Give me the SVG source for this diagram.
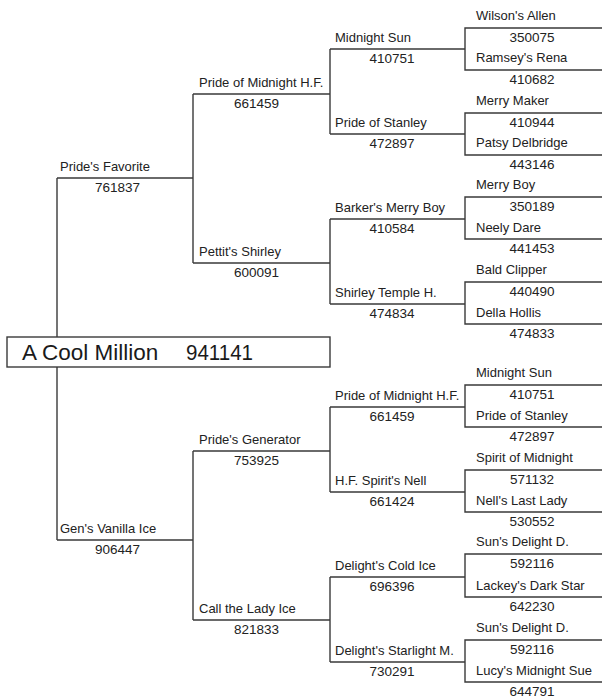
<svg xmlns="http://www.w3.org/2000/svg" width="602" height="698" viewBox="0 0 602 698">
<style>
  .ln{fill:none;stroke:#3a3a3a;stroke-width:1.4}
  .nm{font-family:"Liberation Sans",Arial,sans-serif;font-size:13px;fill:#222}
  .nu{font-family:"Liberation Sans",Arial,sans-serif;font-size:13.5px;fill:#222;text-anchor:middle}
  .mt{font-family:"Liberation Sans",Arial,sans-serif;font-size:22.5px;fill:#1a1a1a}
</style>
<rect width="602" height="698" fill="#fff"/>
<g id="connectors" class="ln">
  <path d="M57,178V337M57,367V540"/>
  <path d="M57,178H193M193,94V263M57,540H193M193,451V620"/>
  <path d="M193,94H330M330,49V134M193,263H330M330,219V304"/>
  <path d="M193,451H330M330,407V492M193,620H330M330,577V662"/>
  <path d="M330,49H465M330,134H465M330,219H465M330,304H465"/>
  <path d="M330,407H465M330,492H465M330,577H465M330,662H465"/>
  <path d="M603,28H465V70H603M603,113H465V155H603M603,197H465V239H603M603,282H465V324H603"/>
  <path d="M603,385H465V427H603M603,470H465V512H603M603,554H465V597H603M603,640H465V682H603"/>
</g>
<g id="root">
  <rect class="ln" x="7" y="337" width="323" height="30"/>
  <text class="mt" x="22" y="360">A Cool Million</text>
  <text class="mt" x="186" y="360" textLength="67" lengthAdjust="spacingAndGlyphs">941141</text>
</g>
<g id="prides-favorite"><text class="nm" x="60" y="171">Pride's Favorite</text><text class="nu" x="117.5" y="192">761837</text></g>
<g id="gens-vanilla-ice"><text class="nm" x="60" y="533">Gen's Vanilla Ice</text><text class="nu" x="117.5" y="554">906447</text></g>
<g id="pride-of-midnight-hf-1"><text class="nm" x="199" y="87">Pride of Midnight H.F.</text><text class="nu" x="256.5" y="108">661459</text></g>
<g id="pettits-shirley"><text class="nm" x="199" y="256">Pettit's Shirley</text><text class="nu" x="256.5" y="277">600091</text></g>
<g id="prides-generator"><text class="nm" x="199" y="444">Pride's Generator</text><text class="nu" x="256.5" y="465">753925</text></g>
<g id="call-the-lady-ice"><text class="nm" x="199" y="613">Call the Lady Ice</text><text class="nu" x="256.5" y="634">821833</text></g>
<g id="midnight-sun-1"><text class="nm" x="335" y="42">Midnight Sun</text><text class="nu" x="392" y="63">410751</text></g>
<g id="pride-of-stanley-1"><text class="nm" x="335" y="127">Pride of Stanley</text><text class="nu" x="392" y="148">472897</text></g>
<g id="barkers-merry-boy"><text class="nm" x="335" y="212">Barker's Merry Boy</text><text class="nu" x="392" y="233">410584</text></g>
<g id="shirley-temple-h"><text class="nm" x="335" y="297">Shirley Temple H.</text><text class="nu" x="392" y="318">474834</text></g>
<g id="pride-of-midnight-hf-2"><text class="nm" x="335" y="400">Pride of Midnight H.F.</text><text class="nu" x="392" y="421">661459</text></g>
<g id="hf-spirits-nell"><text class="nm" x="335" y="485">H.F. Spirit's Nell</text><text class="nu" x="392" y="506">661424</text></g>
<g id="delights-cold-ice"><text class="nm" x="335" y="570">Delight's Cold Ice</text><text class="nu" x="392" y="591">696396</text></g>
<g id="delights-starlight-m"><text class="nm" x="335" y="655">Delight's Starlight M.</text><text class="nu" x="392" y="676">730291</text></g>
<g id="wilsons-allen"><text class="nm" x="476" y="20">Wilson's Allen</text><text class="nu" x="532" y="42">350075</text></g>
<g id="ramseys-rena"><text class="nm" x="476" y="62">Ramsey's Rena</text><text class="nu" x="532" y="84">410682</text></g>
<g id="merry-maker"><text class="nm" x="476" y="105">Merry Maker</text><text class="nu" x="532" y="127">410944</text></g>
<g id="patsy-delbridge"><text class="nm" x="476" y="147">Patsy Delbridge</text><text class="nu" x="532" y="169">443146</text></g>
<g id="merry-boy"><text class="nm" x="476" y="189">Merry Boy</text><text class="nu" x="532" y="211">350189</text></g>
<g id="neely-dare"><text class="nm" x="476" y="232">Neely Dare</text><text class="nu" x="532" y="253">441453</text></g>
<g id="bald-clipper"><text class="nm" x="476" y="274">Bald Clipper</text><text class="nu" x="532" y="296">440490</text></g>
<g id="della-hollis"><text class="nm" x="476" y="317">Della Hollis</text><text class="nu" x="532" y="338">474833</text></g>
<g id="midnight-sun-2"><text class="nm" x="476" y="377">Midnight Sun</text><text class="nu" x="532" y="399">410751</text></g>
<g id="pride-of-stanley-2"><text class="nm" x="476" y="420">Pride of Stanley</text><text class="nu" x="532" y="441">472897</text></g>
<g id="spirit-of-midnight"><text class="nm" x="476" y="462">Spirit of Midnight</text><text class="nu" x="532" y="484">571132</text></g>
<g id="nells-last-lady"><text class="nm" x="476" y="505">Nell's Last Lady</text><text class="nu" x="532" y="526">530552</text></g>
<g id="suns-delight-d-1"><text class="nm" x="476" y="546">Sun's Delight D.</text><text class="nu" x="532" y="568">592116</text></g>
<g id="lackeys-dark-star"><text class="nm" x="476" y="590">Lackey's Dark Star</text><text class="nu" x="532" y="611">642230</text></g>
<g id="suns-delight-d-2"><text class="nm" x="476" y="632">Sun's Delight D.</text><text class="nu" x="532" y="654">592116</text></g>
<g id="lucys-midnight-sue"><text class="nm" x="476" y="675">Lucy's Midnight Sue</text><text class="nu" x="532" y="696">644791</text></g>
</svg>
